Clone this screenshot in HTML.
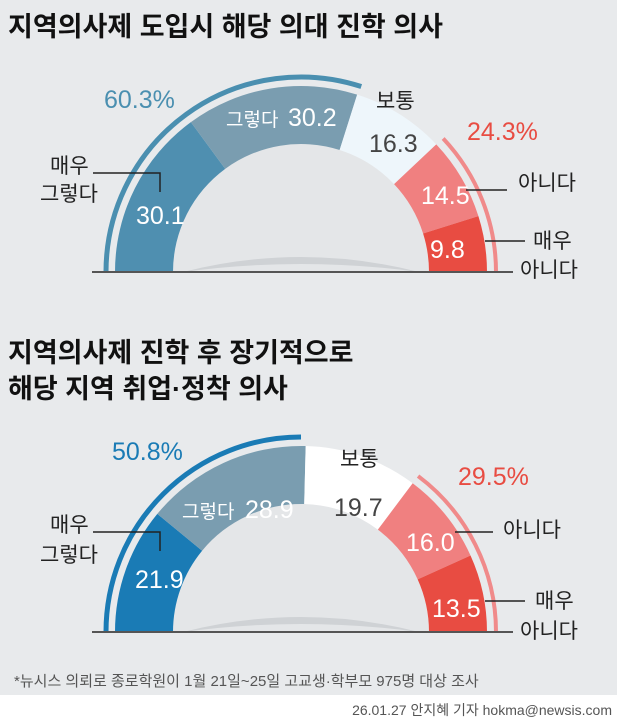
<!DOCTYPE html>
<html><head><meta charset="utf-8"><style>
body{margin:0;width:617px;height:722px;background:#e8eaec;overflow:hidden;font-family:"Liberation Sans","Noto Sans CJK KR",sans-serif}
svg{position:absolute;left:0;top:0}
</style></head><body>
<svg id="s" width="617" height="722" xmlns="http://www.w3.org/2000/svg" font-family="Liberation Sans, Noto Sans CJK KR, sans-serif">
<rect x="0" y="695" width="617" height="27" fill="#fff"/>
<text x="8" y="36" font-size="27" font-weight="bold" fill="#111">지역의사제 도입시 해당 의대 진학 의사</text>
<text x="8" y="362" font-size="27" font-weight="bold" fill="#111">지역의사제 진학 후 장기적으로</text>
<text x="8" y="398" font-size="27" font-weight="bold" fill="#111">해당 지역 취업·정착 의사</text>
<g id="g1"></g><g id="g2"></g>
<g font-size="21" fill="#222">
<text x="50" y="173">매우</text><text x="40" y="201">그렇다</text>
<text x="518" y="190">아니다</text>
<text x="533" y="248">매우</text><text x="520" y="277">아니다</text>
<text x="376" y="108">보통</text>
<text x="50" y="532">매우</text><text x="40" y="562">그렇다</text>
<text x="503" y="537">아니다</text>
<text x="535" y="608">매우</text><text x="520" y="638">아니다</text>
<text x="340" y="466">보통</text>
</g>
<g fill="none" stroke="#222" stroke-width="1.5">
<polyline points="93,173 160,173 160,192"/>
<line x1="466" y1="190" x2="507" y2="190"/>
<line x1="485" y1="241" x2="525" y2="241"/>
<polyline points="93,532 160,532 160,551"/>
<line x1="455" y1="532" x2="493" y2="532"/>
<line x1="485" y1="601" x2="525" y2="601"/>
</g>
<g font-size="25" fill="#fff">
<text x="136" y="224">30.1</text>
<text x="226" y="126" font-size="19">그렇다</text><text x="288" y="126">30.2</text>
<text x="369" y="152" fill="#444">16.3</text>
<text x="421" y="204">14.5</text>
<text x="430" y="258">9.8</text>
<text x="135" y="588">21.9</text>
<text x="182" y="518" font-size="19">그렇다</text><text x="245" y="518">28.9</text>
<text x="334" y="516" fill="#444">19.7</text>
<text x="406" y="551">16.0</text>
<text x="432" y="617">13.5</text>
</g>
<text x="104" y="108" font-size="25" fill="#4a8fb0">60.3%</text>
<text x="467" y="140" font-size="25" fill="#e84c42">24.3%</text>
<text x="112" y="460" font-size="25" fill="#1a7bb5">50.8%</text>
<text x="458" y="485" font-size="25" fill="#e84c42">29.5%</text>
<text x="14" y="686" font-size="15" fill="#555">*뉴시스 의뢰로 종로학원이 1월 21일~25일 고교생·학부모 975명 대상 조사</text>
<text x="612" y="715" font-size="14" fill="#555" text-anchor="end">26.01.27 안지혜 기자 hokma@newsis.com</text>
</svg>
<script>
function P(cx,cy,r,f){var a=Math.PI*f;return [cx-r*Math.cos(a),cy-r*Math.sin(a)];}
function seg(cx,cy,r0,r1,f0,f1,c){var a=P(cx,cy,r1,f0),b=P(cx,cy,r1,f1),d=P(cx,cy,r0,f1),e=P(cx,cy,r0,f0);
return '<path fill="'+c+'" d="M'+a+' A'+r1+','+r1+' 0 0 1 '+b+' L'+d+' A'+r0+','+r0+' 0 0 0 '+e+'Z"/>';}
function arc(cx,cy,r,f0,f1,c,w){var a=P(cx,cy,r,f0),b=P(cx,cy,r,f1);return '<path fill="none" stroke="'+c+'" stroke-width="'+w+'" d="M'+a+' A'+r+','+r+' 0 0 1 '+b+'"/>';}
function chart(id,cy,vals,cols,bl,blc,rd){var cx=301,s=0,t=vals.reduce(function(x,y){return x+y},0),h='';
h+='<path d="M'+(cx-128)+','+cy+' A128,128 0 0 1 '+(cx+128)+','+cy+'Z" fill="#e4e6e8"/>';
h+='<path d="M'+(cx-118)+','+cy+' Q'+cx+','+(cy-30)+' '+(cx+118)+','+cy+' Q'+cx+','+(cy-16)+' '+(cx-118)+','+cy+'Z" fill="#cfd2d5"/>';
vals.forEach(function(v,i){h+=seg(cx,cy,128,186,s/t,(s+v)/t,cols[i]);s+=v;});
h+=arc(cx,cy,195,0,bl,blc,5)+arc(cx,cy,195,1-rd,1,'#f08a8a',4);
h+='<line x1="92" y1="'+cy+'" x2="513" y2="'+cy+'" stroke="#555" stroke-width="2"/>';
document.getElementById(id).innerHTML=h;}
chart('g1',272,[30.1,30.2,16.3,14.5,9.8],['#4f8fb0','#7a9db0','#eef6fb','#f08080','#e84c42'],0.6,'#4a8fb0',0.24);
chart('g2',632,[21.9,28.9,19.7,16,13.5],['#1a7bb5','#7a9db0','#ffffff','#f08080','#e84c42'],0.5,'#1a7bb5',0.295);
</script>
</body></html>
